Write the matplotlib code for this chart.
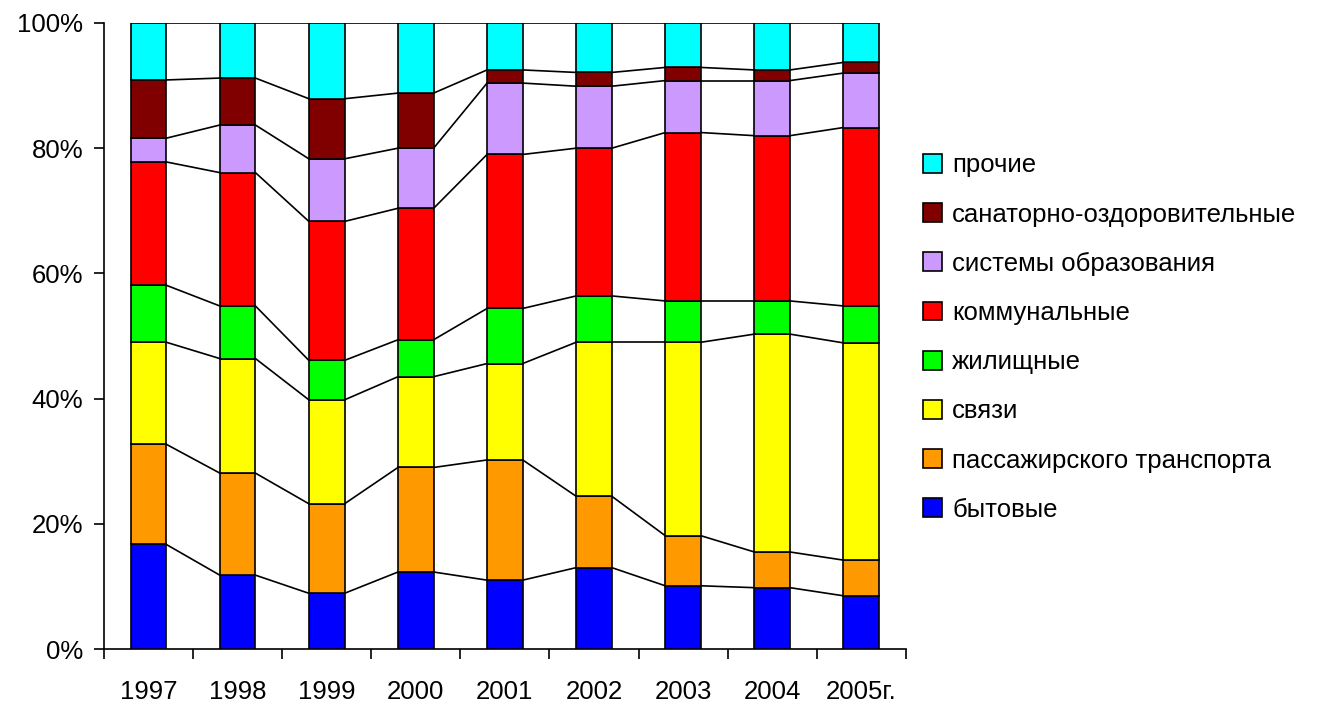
import matplotlib
matplotlib.use("Agg")
import matplotlib.pyplot as plt
from matplotlib.patches import Patch
import numpy as np

plt.rcParams['font.family'] = ['Liberation Sans', 'DejaVu Sans']

years = ["1997", "1998", "1999", "2000", "2001", "2002", "2003", "2004", "2005г."]
series_names = ["бытовые", "пассажирского транспорта", "связи", "жилищные",
                "коммунальные", "системы образования", "санаторно-оздоровительные", "прочие"]

bytovye      = [16.7, 11.8, 8.9, 12.3, 11.0, 13.0, 10.1, 9.8, 8.5]
passazhir    = [16.0, 16.3, 14.3, 16.7, 19.2, 11.4, 8.0, 5.7, 5.7]
svyazi       = [16.3, 18.3, 16.6, 14.5, 15.4, 24.6, 30.9, 34.8, 34.7]
zhilishchnye = [9.1, 8.4, 6.3, 5.9, 8.8, 7.4, 6.6, 5.3, 5.9]
kommunalnye  = [19.7, 21.3, 22.2, 21.0, 24.6, 23.6, 26.9, 26.4, 28.5]
obrazovanie  = [3.8, 7.6, 10.0, 9.6, 11.4, 9.9, 8.3, 8.8, 8.7]
sanatorno    = [9.3, 7.5, 9.6, 8.8, 2.1, 2.2, 2.1, 1.7, 1.7]
prochie      = [9.1, 8.8, 12.1, 11.2, 7.5, 7.9, 7.1, 7.5, 6.3]

colors = ["#0000FF", "#FF9900", "#FFFF00", "#00FF00",
          "#FF0000", "#CC99FF", "#800000", "#00FFFF"]

data = np.array([bytovye, passazhir, svyazi, zhilishchnye,
                 kommunalnye, obrazovanie, sanatorno, prochie], dtype=float)
data = data / data.sum(axis=0) * 100.0

fig = plt.figure(figsize=(13.38, 7.05), dpi=100)
ax = fig.add_axes([0.0777, 0.0794, 0.5993, 0.888])

x = np.arange(len(years))
width = 0.4
bottom = np.zeros(len(years))
for vals, col in zip(data, colors):
    ax.bar(x, vals, width, bottom=bottom, color=col, edgecolor="black", linewidth=1.2, zorder=3)
    bottom = bottom + vals
    # series lines
    for i in range(len(years) - 1):
        ax.plot([x[i] + width / 2, x[i + 1] - width / 2], [bottom[i], bottom[i + 1]],
                color="black", linewidth=1.2, zorder=2)

ax.set_xlim(-0.5, len(years) - 0.5)
ax.set_ylim(0, 100)
ax.set_yticks([0, 20, 40, 60, 80, 100])
ax.set_yticklabels(["0%", "20%", "40%", "60%", "80%", "100%"])
ax.set_xticks(np.arange(len(years) + 1) - 0.5, minor=False)
ax.set_xticklabels([""] * (len(years) + 1))
ax.set_xticks(x, minor=True)
ax.set_xticklabels(years, minor=True)
ax.tick_params(axis="x", which="major", direction="out", length=7, width=1.2)
ax.tick_params(axis="x", which="minor", length=0, pad=22, labelsize=18.5)
ax.tick_params(axis="y", direction="out", length=7, width=1.2, labelsize=18.5, pad=8)
for s in ["top", "right"]:
    ax.spines[s].set_visible(False)
for s in ["left", "bottom"]:
    ax.spines[s].set_linewidth(1.2)

handles = [Patch(facecolor=c, edgecolor="black", linewidth=1.2) for c in colors[::-1]]
fig.legend(handles, series_names[::-1], loc="upper left", bbox_to_anchor=(0.682, 0.797),
           frameon=False, fontsize=18.5, handlelength=0.75, handleheight=0.75,
           handletextpad=0.4, labelspacing=0.98, borderaxespad=0)

fig.savefig("out.png", dpi=100)
